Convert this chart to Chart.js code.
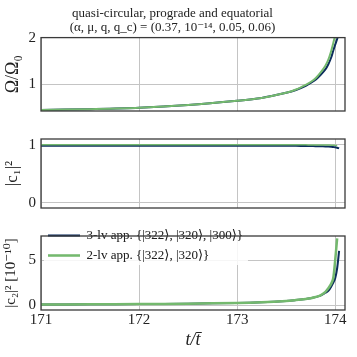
<!DOCTYPE html>
<html>
<head>
<meta charset="utf-8">
<script src="https://cdn.jsdelivr.net/npm/chart.js@4/dist/chart.umd.min.js"></script>
<style>
  body { margin: 0; background: #fff; }
  #wrap { position: relative; width: 357px; height: 357px; }
  canvas { position: absolute; left: 0; }
</style>
</head>
<body>
<div id="wrap">
  <canvas id="omega" style="top:0px" width="357" height="125"></canvas>
  <canvas id="cone" style="top:125px" width="357" height="97"></canvas>
  <canvas id="ctwo" style="top:222px" width="357" height="135"></canvas>
</div>
<script>
// time samples t / tbar (denser near the plunge at ~174)
var t = [171, 171.5, 172, 172.5, 173, 173.25, 173.5, 173.6, 173.7, 173.75, 173.8,
         173.85, 173.9, 173.93, 173.96, 173.98, 174.0, 174.02, 174.04];

// Omega / Omega_0
var omega3lv = [0.45, 0.47, 0.50, 0.56, 0.65, 0.71, 0.82, 0.88, 0.97, 1.03, 1.10,
                1.20, 1.32, 1.43, 1.58, 1.72, 1.85, 1.97, 2.10];
var omega2lv = [0.45, 0.47, 0.50, 0.56, 0.65, 0.71, 0.82, 0.89, 0.99, 1.05, 1.13,
                1.25, 1.40, 1.53, 1.72, 1.88, 2.05, 2.20, null];

// |c1|^2
var c1sq3lv = [0.985, 0.985, 0.985, 0.985, 0.985, 0.984, 0.983, 0.982, 0.980, 0.979, 0.977,
               0.975, 0.972, 0.969, 0.965, 0.961, 0.957, 0.950, 0.940];
var c1sq2lv = [1.0, 1.0, 1.0, 1.0, 1.0, 1.0, 1.0, 0.999, 0.999, 0.998, 0.998,
               0.997, 0.996, 0.995, 0.994, 0.992, 0.990, 0.985, null];

// |c2|^2 in units of 1e-10
var c2sq3lv = [0.10, 0.12, 0.15, 0.20, 0.28, 0.36, 0.50, 0.60, 0.72, 0.80, 0.92,
               1.08, 1.40, 1.60, 2.10, 2.50, 3.00, 4.10, 6.00];
var c2sq2lv = [0.10, 0.12, 0.15, 0.20, 0.28, 0.36, 0.50, 0.60, 0.72, 0.80, 0.93,
               1.12, 1.50, 1.90, 2.40, 3.00, 5.00, 7.40, null];

var xTicks = [171, 172, 173, 174];
var seriesLabels = ["3-lv app. {|322\u27E9, |320\u27E9, |300\u27E9}", "2-lv app. {|322\u27E9, |320\u27E9}"];
var titleLines = ["quasi-circular, prograde and equatorial",
                  "(\u03B1, \u03BC, q, q_c) = (0.37, 10\u207B\u00B9\u2074, 0.05, 0.06)"];

var BLUE = "#0c2d5c";
var GREEN = "#74b96e";
var FONT = "'Liberation Serif', 'DejaVu Serif', serif";

function pts(ys) {
  var out = [];
  for (var i in t) {
    if (ys[i] == null) continue;
    out.push({ x: t[i], y: ys[i] });
  }
  return out;
}

// dark frame round the plot area, matplotlib style
var framePlugin = {
  id: "frame",
  afterDraw: function(chart) {
    var a = chart.chartArea, ctx = chart.ctx;
    ctx.save();
    ctx.strokeStyle = "#3a3a3a";
    ctx.lineWidth = 1.3;
    ctx.strokeRect(a.left, a.top, a.right - a.left, a.bottom - a.top);
    ctx.restore();
  }
};

// white box behind the legend (hides the grid like matplotlib), then legend again on top
var legendBg = {
  id: "legendBg",
  afterDatasetsDraw: function(chart) {
    var lg = chart.legend;
    if (!lg || !lg.options.display) return;
    var ctx = chart.ctx;
    var boxes = lg.legendHitBoxes;
    var w = 0, h = 0;
    boxes.forEach(function(b) {
      w = Math.max(w, b.left + b.width - lg.left);
      h = Math.max(h, b.top + b.height - lg.top);
    });
    ctx.save();
    ctx.fillStyle = "rgba(255,255,255,0.85)";
    ctx.fillRect(lg.left + 3, lg.top + 3, w + 2, h);
    ctx.restore();
    lg.draw();
  }
};

function makePanel(id, cfg) {
  var datasets = [
    { label: seriesLabels[0], data: pts(cfg.blue), borderColor: BLUE, backgroundColor: BLUE,
      borderWidth: 2, pointRadius: 0, tension: 0.3, order: 1 },
    { label: seriesLabels[1], data: pts(cfg.green), borderColor: GREEN, backgroundColor: GREEN,
      borderWidth: cfg.greenWidth || 2, pointRadius: 0, tension: 0.3, order: 0 }
  ];
  var xScale = {
    type: "linear", min: 171, max: 174.1,
    afterBuildTicks: function(s) { s.ticks = xTicks.map(function(v) { return { value: v }; }); },
    grid: { color: "#c4c4c4", lineWidth: 1, drawTicks: false },
    border: { display: false },
    ticks: { display: cfg.showX, color: "#222", padding: 1, font: { family: FONT, size: 15 } },
    title: { display: cfg.showX, text: "t/t\u0304", color: "#222", padding: { top: 0, bottom: 0 },
             font: { family: FONT, size: 18, style: "italic" } },
    afterFit: function(s) { s.height = cfg.showX ? 41 : 0; }
  };
  var yScale = {
    type: "linear", min: cfg.ymin, max: cfg.ymax,
    afterBuildTicks: function(s) { s.ticks = cfg.yTicks.map(function(v) { return { value: v }; }); },
    grid: { color: "#c4c4c4", lineWidth: 1, drawTicks: false },
    border: { display: false },
    ticks: { color: "#222", padding: 5, font: { family: FONT, size: 15 } },
    title: { display: true, text: cfg.ytitle, color: "#222", padding: { top: 2, bottom: 0 },
             font: { family: FONT, size: cfg.ytitleSize || 16 } },
    afterFit: function(s) { s.width = 41; }
  };
  return new Chart(document.getElementById(id), {
    type: "line",
    data: { datasets: datasets },
    plugins: [legendBg, framePlugin],
    options: {
      responsive: false,
      animation: false,
      layout: { padding: cfg.padding },
      scales: { x: xScale, y: yScale },
      plugins: {
        tooltip: { enabled: false },
        title: {
          display: !!cfg.title, text: cfg.title, color: "#222",
          font: { family: FONT, size: 13, weight: "normal", lineHeight: 1.1 },
          padding: { top: 6, bottom: 3 }
        },
        legend: {
          display: !!cfg.legend,
          position: "chartArea", align: "start",
          labels: {
            usePointStyle: true, pointStyle: "line", pointStyleWidth: 32,
            color: "#222", padding: 7,
            font: { family: FONT, size: 13 },
            sort: function(a, b) { return a.datasetIndex - b.datasetIndex; }
          }
        }
      }
    }
  });
}

makePanel("omega", {
  blue: omega3lv, green: omega2lv, ymin: 0.43, ymax: 2, yTicks: [1, 2],
  ytitle: "\u03A9/\u03A9\u2080", ytitleSize: 18, showX: false, title: titleLines,
  padding: { top: 0, right: 12, bottom: 8, left: 0 }
});
makePanel("cone", {
  blue: c1sq3lv, green: c1sq2lv, ymin: -0.09, ymax: 1.1, yTicks: [0, 1],
  ytitle: "|c\u2081|\u00B2", ytitleSize: 17, showX: false, greenWidth: 1.5,
  padding: { top: 7, right: 12, bottom: 8, left: 0 }
});
makePanel("ctwo", {
  blue: c2sq3lv, green: c2sq2lv, ymin: -0.5, ymax: 7.65, yTicks: [0, 5],
  ytitle: "|c\u2082|\u00B2 [10\u207B\u00B9\u2070]", ytitleSize: 15, showX: true, legend: true, greenWidth: 2.5,
  padding: { top: 5, right: 12, bottom: 6, left: 0 }
});
</script>
</body>
</html>
